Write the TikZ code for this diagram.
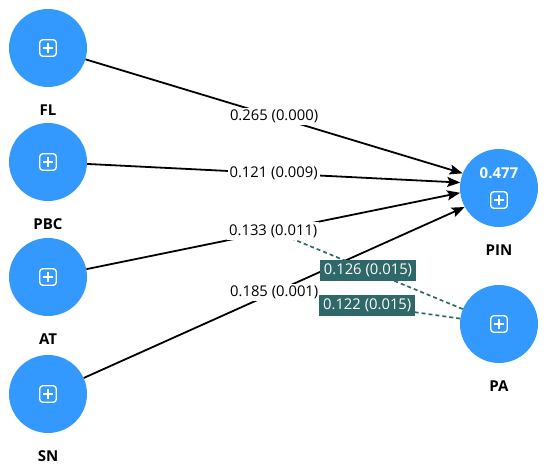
\documentclass[tikz,border=0pt]{standalone}
\usepackage{fontspec}
\setmainfont{Open Sans}
\usepackage{tikz}
\usetikzlibrary{positioning,backgrounds,arrows.meta}

\definecolor{lvblue}{RGB}{51,153,255}
\definecolor{modteal}{RGB}{47,104,104}

\tikzset{
  latent/.style={circle,fill=lvblue,minimum size=78pt,inner sep=0pt},
  lvname/.style={font=\fontsize{15}{18}\selectfont\bfseries},
  rsq/.style={text=white,font=\fontsize{15}{18}\selectfont\bfseries},
  plusbox/.style={draw=white,line width=1.4pt,rounded corners=3pt,minimum size=16.5pt,inner sep=0pt,
    path picture={\draw[white,line width=1.4pt]
      ([yshift=-3.5pt]path picture bounding box.north) -- ([yshift=3.5pt]path picture bounding box.south)
      ([xshift=3.5pt]path picture bounding box.west) -- ([xshift=-3.5pt]path picture bounding box.east);}},
  coef/.style={fill=white,inner sep=2pt,font=\fontsize{14.8}{17}\selectfont},
  modcoef/.style={fill=modteal,text=white,inner xsep=4pt,inner ysep=0pt,minimum height=21pt,
    font=\fontsize{14.8}{17}\selectfont},
  relpath/.style={draw=black,line width=1.8pt,-{Stealth[length=13pt,width=10pt,inset=2.5pt]}},
  modline/.style={draw=modteal,line width=1.7pt,dash pattern=on 4pt off 3pt},
}

\begin{document}
\begin{tikzpicture}[x=1pt,y=1pt]
    \useasboundingbox (0,0) rectangle (550,-475);
    % constructs
    \node[latent] (fl)  at (48,-48)   {};
    \node[latent] (pbc) at (48,-162)  {};
    \node[latent] (att) at (48,-277)  {};
    \node[latent] (sn)  at (48,-394)  {};
    \node[latent] (pin) at (499,-188) {};
    \node[latent] (pa)  at (499,-324) {};
    %
    \node[plusbox] (flicon)  at (fl)  {};
    \node[plusbox] (pbcicon) at (pbc) {};
    \node[plusbox] (atticon) at (att) {};
    \node[plusbox] (snicon)  at (sn)  {};
    \node[plusbox] (paicon)  at (pa)  {};
    \node[plusbox] (pinicon) at ([yshift=-12pt]pin.center) {};
    \node[rsq]     (pinrsq)  at ([yshift=15pt]pin.center)  {0.477};
    %
    \node[lvname, below=14pt of fl]  (fllab)  {FL};
    \node[lvname, below=14pt of pbc] (pbclab) {PBC};
    \node[lvname, below=14pt of att] (attlab) {AT};
    \node[lvname, below=14pt of sn]  (snlab)  {SN};
    \node[lvname, below=14pt of pin] (pinlab) {PIN};
    \node[lvname, below=14pt of pa]  (palab)  {PA};
    %
    \path[relpath]
        (fl)  edge node[coef] {0.265 (0.000)} (pin.158)
        (pbc) edge node[coef] {0.121 (0.009)} (pin.172)
        (att) edge node[coef] {0.133 (0.011)} node[coordinate] (attmid) {} (pin.187)
        (sn)  edge node[coef] {0.185 (0.001)} node[coordinate] (snmid) {} (pin.209)
    ; %-path-%
    % moderating effects
    \begin{scope}[on background layer]
        \draw[modline] (pa) -- (attmid);
        \draw[modline] (pa) -- (snmid);
    \end{scope}
    \path (pa) -- node[modcoef] (modat) {0.126 (0.015)} (attmid);
    \path (pa) -- node[modcoef] (modsn) {0.122 (0.015)} (snmid);
\end{tikzpicture}
\end{document}
